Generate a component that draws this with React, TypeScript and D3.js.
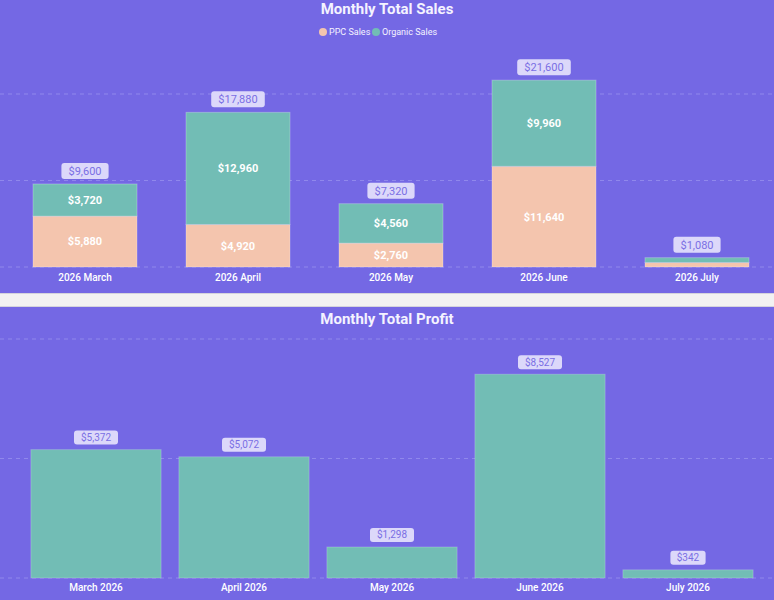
import React from 'react';
import * as d3 from 'd3';

const W = 774;
const H = 600;

// monthly sales, stacked by channel
const salesMonths = ['2026 March', '2026 April', '2026 May', '2026 June', '2026 July'];
const ppcSales = [5880, 4920, 2760, 11640, 520];
const organicSales = [3720, 12960, 4560, 9960, 560];
const salesTicks = [0, 10000, 20000];

// monthly profit
const profitMonths = ['March 2026', 'April 2026', 'May 2026', 'June 2026', 'July 2026'];
const profitValues = [5372, 5072, 1298, 8527, 342];
const profitTicks = [0, 5000, 10000];

const BG = '#7468e4';
const TEAL = '#72bdb5';
const PEACH = '#f4c5ae';
const GRID = '#9088ec';
const LABEL_BG = '#dcd8fa';
const LABEL_FG = '#7a6fe4';
const FONT = 'Roboto, "DejaVu Sans", sans-serif';

const fmt = (v: number) => '$' + d3.format(',')(v);

// rough width of a "$x,xxx" label
const textWidth = (s: string, size: number) =>
  s.split('').reduce((w, c) => w + (c === ',' ? size * 0.3 : size * 0.58), 0);

const TotalTag = ({ x, y, text, size, h }: { x: number; y: number; text: string; size: number; h: number }) => {
  const w = textWidth(text, size) + 12;
  return (
    <g>
      <rect x={x - w / 2} y={y - h - 5} width={w} height={h} rx={3} fill={LABEL_BG} />
      <text x={x} y={y - 5 - h / 2} dy="0.35em" textAnchor="middle" fontSize={size} fill={LABEL_FG} fontFamily={FONT}>
        {text}
      </text>
    </g>
  );
};

const Grid = ({ ticks, y }: { ticks: number[]; y: d3.ScaleLinear<number, number> }) => (
  <g>
    {ticks.map(t => (
      <line key={t} x1={0} x2={W} y1={y(t)} y2={y(t)} stroke={GRID} strokeWidth={1} strokeDasharray="4 4" />
    ))}
  </g>
);

const SalesChart = () => {
  const x = d3.scaleBand<string>().domain(salesMonths).range([8.5, 773.5]).paddingInner(0.32).paddingOuter(0.16);
  const y = d3.scaleLinear().domain([0, 20000]).range([267, 94]);

  const rows = salesMonths.map((m, i) => ({ month: m, ppc: ppcSales[i], organic: organicSales[i] }));
  const stacked = d3.stack<any>().keys(['ppc', 'organic'])(rows);
  const colors: Record<string, string> = { ppc: PEACH, organic: TEAL };

  return (
    <g>
      <text x={W / 2} y={9} dy="0.35em" textAnchor="middle" fontSize={15} fontWeight={700} fill="#f4f3ff" fontFamily={FONT}>
        Monthly Total Sales
      </text>
      <g fontFamily={FONT} fontSize={9} fill="#f4f3ff">
        <circle cx={323} cy={32} r={4} fill={PEACH} />
        <text x={329} y={32} dy="0.35em">PPC Sales</text>
        <circle cx={376} cy={32} r={4} fill={TEAL} />
        <text x={382} y={32} dy="0.35em">Organic Sales</text>
      </g>
      <Grid ticks={salesTicks} y={y} />
      {stacked.map(layer => (
        <g key={layer.key}>
          {layer.map((d, i) => {
            const bx = x(salesMonths[i])!;
            const top = y(d[1]);
            const bot = y(d[0]);
            const v = d[1] - d[0];
            return (
              <g key={i}>
                <rect x={bx} y={top} width={x.bandwidth()} height={bot - top} fill={colors[layer.key]}
                  stroke="rgba(255,255,255,0.25)" strokeWidth={1} />
                {bot - top > 20 && (
                  <text x={bx + x.bandwidth() / 2} y={(top + bot) / 2} dy="0.35em" textAnchor="middle"
                    fontSize={11} fontWeight={700} fill="#ffffff" fontFamily={FONT}>
                    {fmt(v)}
                  </text>
                )}
              </g>
            );
          })}
        </g>
      ))}
      {salesMonths.map((m, i) => {
        const cx = x(m)! + x.bandwidth() / 2;
        const total = ppcSales[i] + organicSales[i];
        return (
          <g key={m}>
            <TotalTag x={cx} y={y(total)} text={fmt(total)} size={11} h={16} />
            <text x={cx} y={277} dy="0.35em" textAnchor="middle" fontSize={10} fontWeight={500} fill="#ffffff" fontFamily={FONT}>
              {m}
            </text>
          </g>
        );
      })}
    </g>
  );
};

const ProfitChart = () => {
  const x = d3.scaleBand<string>().domain(profitMonths).range([22, 762]).paddingInner(0.12).paddingOuter(0.06);
  const y = d3.scaleLinear().domain([0, 10000]).range([578, 339]);

  return (
    <g>
      <text x={W / 2} y={319} dy="0.35em" textAnchor="middle" fontSize={15} fontWeight={700} fill="#f4f3ff" fontFamily={FONT}>
        Monthly Total Profit
      </text>
      <Grid ticks={profitTicks} y={y} />
      {profitMonths.map((m, i) => {
        const bx = x(m)!;
        const cx = bx + x.bandwidth() / 2;
        const v = profitValues[i];
        return (
          <g key={m}>
            <rect x={bx} y={y(v)} width={x.bandwidth()} height={y(0) - y(v)} fill={TEAL}
              stroke="rgba(255,255,255,0.2)" strokeWidth={1} />
            <TotalTag x={cx} y={y(v)} text={fmt(v)} size={10} h={14} />
            <text x={cx} y={587} dy="0.35em" textAnchor="middle" fontSize={10} fontWeight={500} fill="#ffffff" fontFamily={FONT}>
              {m}
            </text>
          </g>
        );
      })}
    </g>
  );
};

export default function App() {
  return (
    <div style={{ position: 'absolute', left: 0, top: 0 }}>
      <svg width={W} height={H} style={{ display: 'block' }}>
        <rect x={0} y={0} width={W} height={H} fill={BG} />
        {/* separator strip between the two panels */}
        <rect x={0} y={293} width={W} height={14} fill="#f2f2f2" />
        <line x1={0} x2={W} y1={293.5} y2={293.5} stroke="#d4d4dc" />
        <line x1={0} x2={W} y1={306.5} y2={306.5} stroke="#d4d4dc" />
        <SalesChart />
        <ProfitChart />
      </svg>
    </div>
  );
}
